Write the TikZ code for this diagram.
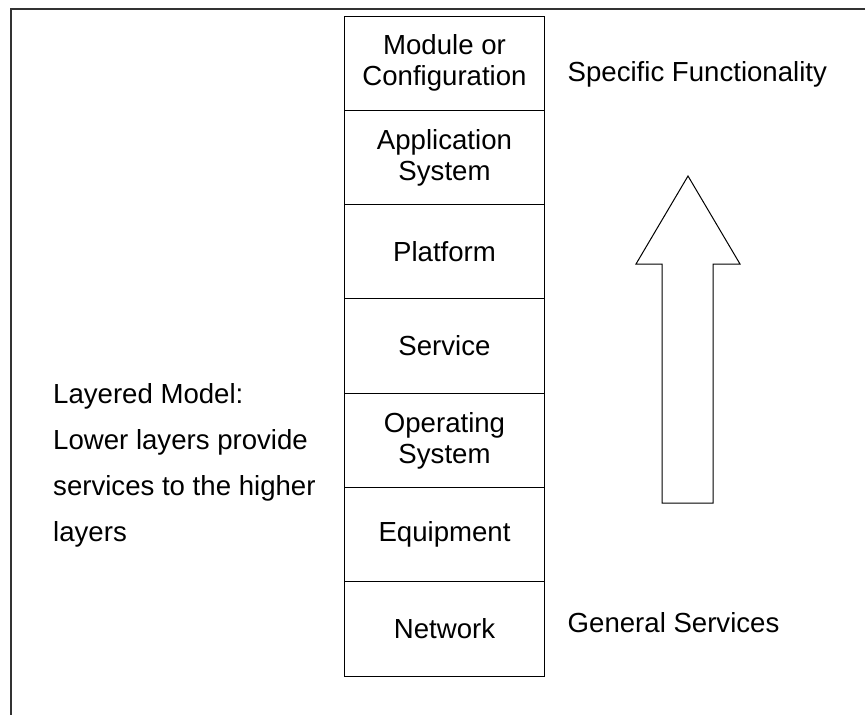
\documentclass[tikz,border=0pt]{standalone}
\usepackage{fontspec}
\setmainfont{Liberation Sans}
\usetikzlibrary{positioning}

\begin{document}
\begin{tikzpicture}[
  x=1pt, y=-1pt,
  node distance=0pt,
  layer/.style={draw, line width=1pt, outer sep=0pt, minimum width=200pt, minimum height=94.3pt,
    align=center, font=\fontsize{27.6}{31}\selectfont},
  note/.style={inner sep=0pt, font=\fontsize{27.6}{46}\selectfont},
  frameline/.style={line width=1.6pt, draw=black!80},
  bigarrow/.style={draw, line width=1pt, line join=miter}
]
\useasboundingbox (0,0) rectangle (867,715);
% frame (top and left only)
\draw[frameline] (865,9) -- (11,9) -- (11,715);

% the layer stack, bottom to top
\node[layer] (net) at (444.5,629) {Network};
\node[layer, above=of net] (equip) {Equipment};
\node[layer, above=of equip] (os) {Operating\\System};
\node[layer, above=of os] (serv) {Service};
\node[layer, above=of serv] (plat) {Platform};
\node[layer, above=of plat] (appsys) {Application\\System};
\node[layer, above=of appsys] (module) {Module or\\Configuration};

% labels
\node[note, anchor=base west] (specific) at (567.5,81) {Specific Functionality};
\node[note, anchor=base west] (general) at (567.5,632) {General Services};
\node[note, anchor=west, align=left] (model) at (53,465)
  {Layered Model:\\Lower layers provide\\services to the higher\\layers};

% upward arrow
\draw[bigarrow] (688,176) -- (740,264) -- (713,264) -- (713,503)
  -- (662,503) -- (662,264) -- (636,264) -- cycle;
\end{tikzpicture}
\end{document}
